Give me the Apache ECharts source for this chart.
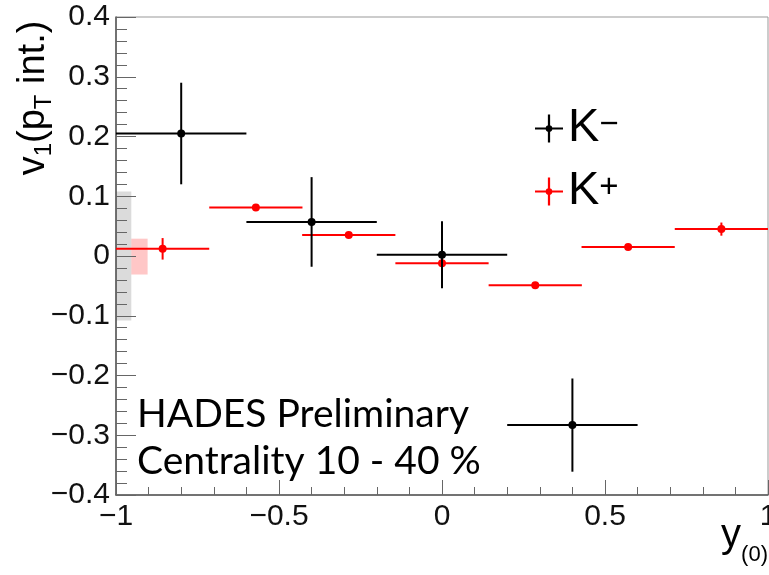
<!DOCTYPE html>
<html>
<head>
<meta charset="utf-8">
<script src="https://cdn.jsdelivr.net/npm/echarts@6/dist/echarts.min.js"></script>
<style>
html,body{margin:0;padding:0;background:#fff;}
#main{width:769px;height:575px;}
</style>
</head>
<body>
<div id="main"></div>
<script>
// K- data
const kmX = [-0.8, -0.4, 0.0, 0.4];
const kmY = [0.205, 0.057, 0.002, -0.283];
const kmXErr = [0.2, 0.2, 0.2, 0.2];
const kmYErr = [0.085, 0.075, 0.056, 0.078];
// K+ data
const kpX = [-0.857, -0.571, -0.286, 0.0, 0.286, 0.571, 0.857];
const kpY = [0.012, 0.081, 0.035, -0.012, -0.049, 0.015, 0.045];
const kpXErr = [0.143, 0.143, 0.143, 0.143, 0.143, 0.143, 0.143];
const kpYErr = [0.018, 0.004, 0.004, 0.004, 0.004, 0.004, 0.011];
// systematic boxes [K-, K+]
const sysXLo = [-1.0, -0.953];
const sysXHi = [-0.953, -0.903];
const sysYLo = [-0.108, -0.031];
const sysYHi = [0.108, 0.029];
// axis ticks
const xTicks = { min: -1, max: 1, interval: 0.5 };
const yTicks = { min: -0.4, max: 0.4, interval: 0.1 };

function fmt(v) {
  let s = (Math.round(v * 10) / 10).toString();
  return s.replace('-', '\u2212');
}

function errData(xs, ys, xe, ye) {
  return xs.map((x, i) => [x, ys[i], xe[i], ye[i]]);
}

function errRender(color) {
  return function (params, api) {
    const x = api.value(0), y = api.value(1), xe = api.value(2), ye = api.value(3);
    const c = api.coord([x, y]);
    const l = api.coord([x - xe, y]);
    const r = api.coord([x + xe, y]);
    const t = api.coord([x, y + ye]);
    const b = api.coord([x, y - ye]);
    const st = { stroke: color, lineWidth: 2 };
    return {
      type: 'group',
      children: [
        { type: 'line', shape: { x1: l[0], y1: l[1], x2: r[0], y2: r[1] }, style: st },
        { type: 'line', shape: { x1: t[0], y1: t[1], x2: b[0], y2: b[1] }, style: st },
        { type: 'circle', shape: { cx: c[0], cy: c[1], r: 4 }, style: { fill: color } }
      ]
    };
  };
}

const sysData = sysXLo.map((x, i) => [x, sysXHi[i], sysYLo[i], sysYHi[i]]);
const sysColors = ['rgba(0,0,0,0.14)', 'rgba(255,0,0,0.22)'];

const plusIcon = 'path://M0,46 L100,46 L100,54 L0,54 Z M46,0 L54,0 L54,100 L46,100 Z M50,38 A12,12 0 1,1 49.99,38 Z';

const chart = echarts.init(document.getElementById('main'), null, { renderer: 'canvas' });
chart.setOption({
  animation: false,
  backgroundColor: '#fff',
  grid: { left: 116, right: 1, top: 17, bottom: 80, show: true, borderColor: '#999', borderWidth: 1,
          backgroundColor: 'transparent', containLabel: false, outerBoundsMode: 'none' },
  xAxis: {
    type: 'value', min: xTicks.min, max: xTicks.max, interval: xTicks.interval,
    axisLine: { show: true, onZero: false, lineStyle: { color: '#555', width: 1.5 } },
    axisTick: { show: true, inside: true, length: 15, lineStyle: { color: '#666', width: 1 } },
    minorTick: { show: true, splitNumber: 5, length: 8, lineStyle: { color: '#666', width: 1 } },
    splitLine: { show: false },
    axisLabel: { color: '#111', fontSize: 30, fontFamily: 'Liberation Sans', margin: 7, formatter: fmt }
  },
  yAxis: {
    type: 'value', min: yTicks.min, max: yTicks.max, interval: yTicks.interval,
    axisLine: { show: true, onZero: false, lineStyle: { color: '#555', width: 1.5 } },
    axisTick: { show: true, inside: true, length: 20, lineStyle: { color: '#666', width: 1 } },
    minorTick: { show: true, splitNumber: 5, length: 11, lineStyle: { color: '#666', width: 1 } },
    splitLine: { show: false },
    axisLabel: { color: '#111', fontSize: 30, fontFamily: 'Liberation Sans', margin: 6, formatter: fmt }
  },
  legend: {
    orient: 'vertical', left: 530, top: 100, itemGap: 16, itemWidth: 28, itemHeight: 35,
    icon: plusIcon,
    data: ['Km', 'Kp'],
    formatter: function (n) { return n === 'Km' ? '{k|K}{s|\u2212}' : '{k|K}{s|+}'; },
    textStyle: {
      rich: {
        k: { fontSize: 47, fontFamily: 'Liberation Sans', color: '#000', lineHeight: 40 },
        s: { fontSize: 33, fontFamily: 'Liberation Sans', color: '#000', lineHeight: 22, verticalAlign: 'top' }
      }
    }
  },
  graphic: [
    {
      type: 'text', rotation: Math.PI / 2, x: 34, y: 98,
      style: {
        text: '{a|v}{s|1}{a|(p}{s|T}{a| int.)}',
        align: 'center', verticalAlign: 'middle',
        rich: {
          a: { fontSize: 38, fontFamily: 'Liberation Sans', fill: '#000', lineHeight: 44 },
          s: { fontSize: 24, fontFamily: 'Liberation Sans', fill: '#000', lineHeight: 16, verticalAlign: 'bottom' }
        }
      }
    },
    {
      type: 'text', x: 768, y: 536,
      style: {
        text: '{a|y}{s|(0)}',
        align: 'right', verticalAlign: 'middle',
        rich: {
          a: { fontSize: 40, fontFamily: 'Liberation Sans', fill: '#000', lineHeight: 60 },
          s: { fontSize: 22, fontFamily: 'Liberation Sans', fill: '#000', lineHeight: 10, verticalAlign: 'bottom' }
        }
      }
    },
    {
      type: 'text', x: 137, y: 395,
      style: { text: 'HADES Preliminary', fontSize: 39, fontFamily: 'Lato', fill: '#000', verticalAlign: 'top' }
    },
    {
      type: 'text', x: 137, y: 442,
      style: { text: 'Centrality 10 - 40 %', fontSize: 39, fontFamily: 'Lato', fill: '#000', verticalAlign: 'top' }
    }
  ],
  series: [
    {
      name: 'sys', type: 'custom', z: 0, silent: true,
      data: sysData,
      renderItem: function (params, api) {
        const p0 = api.coord([api.value(0), api.value(3)]);
        const p1 = api.coord([api.value(1), api.value(2)]);
        return { type: 'rect', shape: { x: p0[0], y: p0[1], width: p1[0] - p0[0], height: p1[1] - p0[1] },
                 style: { fill: sysColors[params.dataIndex] } };
      }
    },
    {
      name: 'Kp', type: 'custom', itemStyle: { color: '#ff0000' },
      data: errData(kpX, kpY, kpXErr, kpYErr),
      renderItem: errRender('#ff0000')
    },
    {
      name: 'Km', type: 'custom', itemStyle: { color: '#000000' },
      data: errData(kmX, kmY, kmXErr, kmYErr),
      renderItem: errRender('#000000')
    }
  ]
});
</script>
</body>
</html>
